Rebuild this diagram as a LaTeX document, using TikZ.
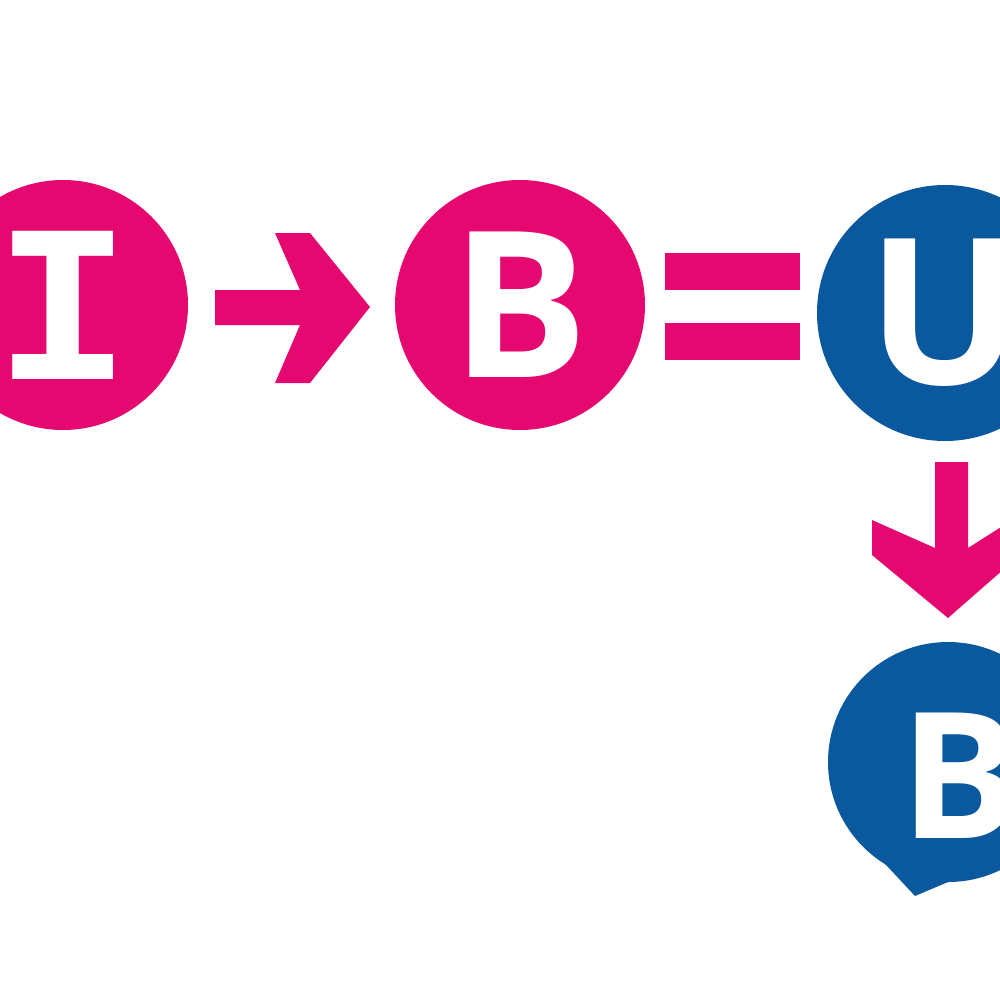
\documentclass[tikz,border=0pt]{standalone}
\usepackage{fontspec}
\setmainfont{Open Sans}
\newfontfamily\slab{Liberation Mono}
\definecolor{pk}{RGB}{228,8,112}
\definecolor{bl}{RGB}{10,88,158}
\begin{document}
\begin{tikzpicture}[x=0.01cm,y=-0.01cm,
  lbl/.style={text=white,font=\bfseries\fontsize{58}{58}\selectfont}]
\useasboundingbox (0,0) rectangle (1000,1000);
\clip (0,0) rectangle (1000,1000);
\fill[pk] (63,305) circle (125);
\node[lbl,font=\slab\bfseries\fontsize{64}{64}\selectfont] (i) at (63,305) {I};
\fill[pk] (215,290) -- (300,290) -- (275,233) -- (310,233) -- (370,307) -- (310,383) -- (275,383) -- (300,325) -- (215,325) -- cycle;
\fill[pk] (520,305) circle (125);
\node[lbl] (b1) at (520,305) {B};
\fill[pk] (665,253) rectangle (800,290);
\fill[pk] (665,323) rectangle (800,360);
\fill[bl] (945,313) circle (128);
\node[lbl] (u) at (945,313) {U};
\fill[pk] (935,462) -- (968,462) -- (968,548) -- (1020,515) -- (1020,555) -- (948,618) -- (872,555) -- (872,520) -- (935,548) -- cycle;
\fill[bl] (948,762) circle (120);
\fill[bl] (915,896) -- (846,822) -- (948,762) -- (1000,860) -- cycle;
\node[lbl,font=\bfseries\fontsize{50}{50}\selectfont] (b2) at (960,776) {B};
\end{tikzpicture}
\end{document}
